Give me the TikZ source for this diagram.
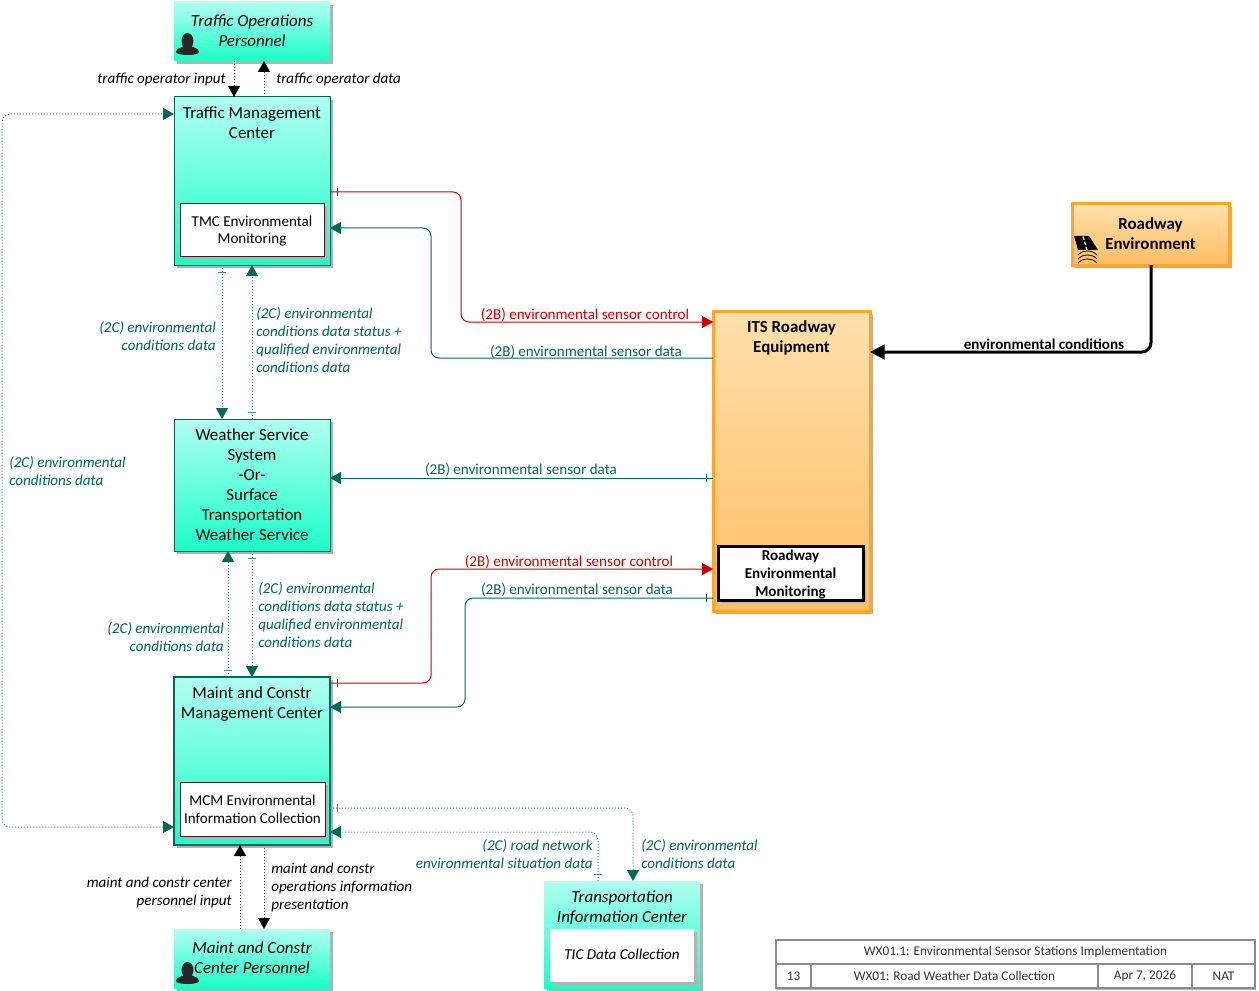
\documentclass[tikz,border=0pt]{standalone}
\usepackage{fontspec}
\usepackage{xcolor}
\setmainfont{Carlito}
\usetikzlibrary{arrows.meta,shadows,decorations.markings}

\definecolor{flowgreen}{RGB}{0,105,90}
\definecolor{flowred}{RGB}{205,0,0}
\definecolor{aquatop}{RGB}{178,255,240}
\definecolor{aquabot}{RGB}{25,255,200}
\definecolor{orangetop}{RGB}{255,224,172}
\definecolor{orangebot}{RGB}{255,190,100}
\definecolor{orangeline}{RGB}{255,165,40}
\definecolor{iconblack}{RGB}{38,38,38}

\newcommand{\personicon}[2]{
    \fill[iconblack,shift={(#1,#2)}]
        (11.5,8) ellipse [x radius=6, y radius=8]
        (0,19) .. controls (0,15) and (5,15) .. (8,13) -- (15,13)
        .. controls (18,15) and (23,15) .. (23,19)
        .. controls (23,23) and (0,23) .. (0,19) -- cycle;
}
\newcommand{\boxfont}{\fontsize{12.7}{15}\selectfont}
\newcommand{\innerfont}{\fontsize{11.3}{13.3}\selectfont}
\newcommand{\flowfont}{\fontsize{11.3}{13.5}\selectfont}
\newcommand{\cellfont}{\fontsize{9.95}{12}\selectfont}

\begin{document}
\begin{tikzpicture}[x=0.75pt,y=-0.75pt,
    wh/.style args={#1/#2}{minimum width=#1*0.75pt,minimum height=#2*0.75pt,inner sep=0pt,outer sep=0pt},
    softshadow/.style={drop shadow={shadow xshift=2.25pt,shadow yshift=-2.25pt,opacity=1,fill=black!30}},
    aquabox/.style={top color=aquatop,bottom color=aquabot,softshadow,anchor=north west,align=center,font=\boxfont},
    orangebox/.style={top color=orangetop,bottom color=orangebot,draw=orangeline,line width=2.25pt,softshadow,anchor=north west,align=center,font=\boxfont\bfseries},
    innerbox/.style={fill=white,softshadow,anchor=north west,align=center,font=\innerfont},
    toptext/.style={align=center,anchor=north,yshift=-3.75pt,font=\boxfont},
    flowtext/.style={font=\flowfont,text=flowgreen,inner sep=0pt},
    flowitalic/.style={flowtext,font=\flowfont\itshape},
    usertext/.style={font=\flowfont\itshape,text=black,inner sep=0pt},
    thinflow/.style={line width=0.75pt,rounded corners=6pt,-{Triangle[length=8.25pt,width=9pt]}},
    greenflow/.style={thinflow,draw=flowgreen},
    dotflow/.style={thinflow,draw=flowgreen!75,-{Triangle[length=8.25pt,width=9pt,color=flowgreen]},dash pattern=on 0.75pt off 1.5pt},
    redflow/.style={thinflow,draw=flowred},
    userflow/.style={thinflow,draw=black!75,-{Triangle[length=8.25pt,width=9pt,color=black]},dash pattern=on 0.75pt off 1.5pt},
    sourcetick/.style={postaction={decorate,decoration={markings,
        mark=at position 5.25pt with {\draw[line width=0.5pt,solid,-] (0,-3pt) -- (0,3pt);}}}},
    cell/.style={draw=black!45,line width=1pt,fill=white,font=\cellfont,text=black!80,anchor=north west,
        drop shadow={shadow xshift=1pt,shadow yshift=-1.5pt,opacity=1,fill=black!30}}]

\path[use as bounding box,fill=white] (0,0) rectangle (1259,991);

\node[aquabox,wh=156/59,font=\boxfont\itshape,text depth=1.5pt] (top) at (174,2) {Traffic Operations\\Personnel};
\personicon{176}{33}
\node[aquabox,wh=156/168,draw=flowgreen,line width=0.75pt,
    label={[toptext]north:{Traffic Management\\Center}}] (tmc) at (174,97) {};
\node[innerbox,wh=144/53,draw=iconblack,line width=0.75pt,text depth=1.2pt] (tmcenv) at (180,204) {TMC Environmental\\Monitoring};
\node[aquabox,wh=156/132,draw=flowgreen,line width=0.75pt] (wss) at (174,419)
    {Weather Service\\System\\-Or-\\Surface\\Transportation\\Weather Service};
\node[aquabox,wh=156/168,draw=flowgreen,line width=1pt,
    label={[toptext]north:{Maint and Constr\\Management Center}}] (mcm) at (174,677) {};
\node[innerbox,wh=145/54,draw=iconblack,line width=0.75pt] (mcmenv) at (180,782) {MCM Environmental\\Information Collection};
\node[aquabox,wh=156/59,font=\boxfont\itshape,text depth=1.5pt] (mcp) at (174,929) {Maint and Constr\\Center Personnel};
\personicon{176}{962}
\node[aquabox,wh=156/107,
    label={[toptext,font=\boxfont\itshape]north:{Transportation\\Information Center}}] (tic) at (544,881) {};
\node[innerbox,wh=144/53,font=\innerfont\itshape,text depth=1.5pt] (ticdata) at (550,929) {TIC Data Collection};
\node[orangebox,wh=157/300,
    label={[toptext,font=\boxfont\bfseries]north:{ITS Roadway\\Equipment}}] (its) at (713,311) {};
\node[innerbox,wh=145/54,draw=black,line width=2.25pt,font=\innerfont\bfseries,text depth=0pt] (itsenv) at (718,546) {Roadway\\Environmental\\Monitoring};
\node[orangebox,wh=157/61,text depth=1.5pt] (road) at (1072,204) {Roadway\\Environment};
\fill[black] (1074,236) -- (1089,236) -- (1098,250) -- (1078,250) -- cycle;
\draw[white,line width=1pt,dash pattern=on 2.5pt off 1.5pt] (1083,236.5) -- (1087,250);
\draw[black,line width=0.6pt]
    (1078,255) .. controls (1083,249.5) and (1092,249.5) .. (1097,255)
    (1078,259) .. controls (1083,253.5) and (1092,253.5) .. (1097,259)
    (1078,263) .. controls (1083,257.5) and (1092,257.5) .. (1097,263);

\draw[redflow,sourcetick] (tmc.east |- 0,192) -| (461,322) -- (its.west |- 0,322);
\draw[greenflow] (its.west |- 0,358) -| (431,228) -- (tmc.east |- 0,228);
\draw[line width=2.25pt,rounded corners=7pt,-{Triangle[length=11pt,width=11pt]}] (road.south -| 1151,0) |- (its.east |- 0,352);
\draw[greenflow,sourcetick] (its.west |- 0,478) -- (wss.east |- 0,478);
\draw[redflow,sourcetick] (mcm.east |- 0,683) -| (431,569) -- (its.west |- 0,569);
\draw[greenflow,sourcetick] (its.west |- 0,598) -| (465,707) -- (mcm.east |- 0,707);
\draw[dotflow,sourcetick] (222,0 |- tmc.south) -- (222,0 |- wss.north);
\draw[dotflow,sourcetick] (252,0 |- wss.north) -- (252,0 |- tmc.south);
\draw[dotflow,sourcetick] (228,0 |- mcm.north) -- (228,0 |- wss.south);
\draw[dotflow,sourcetick] (252,0 |- wss.south) -- (252,0 |- mcm.north);
\draw[dotflow,{Triangle[length=8.25pt,width=9pt,color=flowgreen]}-{Triangle[length=8.25pt,width=9pt,color=flowgreen]}] (mcm.west |- 0,827) -| (2,114) -- (tmc.west |- 0,114);
\draw[dotflow,sourcetick] (mcm.east |- 0,808) -| (633,0 |- tic.north);
\draw[dotflow,sourcetick] (598,0 |- tic.north) |- (mcm.east |- 0,832);
\draw[userflow] (234,0 |- top.south) -- (234,0 |- tmc.north);
\draw[userflow] (264,0 |- tmc.north) -- (264,0 |- top.south);
\draw[userflow] (240,0 |- mcp.north) -- (240,0 |- mcm.south);
\draw[userflow] (264,0 |- mcm.south) -- (264,0 |- mcp.north);

\node[usertext,anchor=east] (inputlabel) at (226,79) {traffic operator input};
\node[usertext,anchor=west] (datalabel) at (276,79) {traffic operator data};
\node[flowtext,text=flowred] (redlabela) at (585,315) {(2B) environmental sensor control};
\node[flowtext] (greenlabela) at (586,352) {(2B) environmental sensor data};
\node[font=\flowfont\bfseries,inner sep=0pt] (condlabel) at (1044,344) {environmental conditions};
\node[flowtext] (greenlabelb) at (521,470) {(2B) environmental sensor data};
\node[flowtext,text=flowred] (redlabelb) at (569,562) {(2B) environmental sensor control};
\node[flowtext] (greenlabelc) at (577,590) {(2B) environmental sensor data};
\node[flowitalic,anchor=east,align=right] (tmcwss) at (216,336) {(2C) environmental\\conditions data};
\node[flowitalic,anchor=west,align=left] (wsstmc) at (256,340) {(2C) environmental\\conditions data status +\\qualified environmental\\conditions data};
\node[flowitalic,anchor=east,align=right] (mcmwss) at (224,637) {(2C) environmental\\conditions data};
\node[flowitalic,anchor=west,align=left] (wssmcm) at (258,615) {(2C) environmental\\conditions data status +\\qualified environmental\\conditions data};
\node[flowitalic,anchor=west,align=left] (looplabel) at (9,471) {(2C) environmental\\conditions data};
\node[flowitalic,anchor=east,align=right] (ticmcm) at (593,854) {(2C) road network\\environmental situation data};
\node[flowitalic,anchor=west,align=left] (mcmtic) at (641,854) {(2C) environmental\\conditions data};
\node[usertext,anchor=east,align=right] (mcpinput) at (232,892) {maint and constr center\\personnel input};
\node[usertext,anchor=west,align=left] (mcpoutput) at (271,887) {maint and constr\\operations information\\presentation};

\node[cell,wh=479/24] (titlecell) at (776,940) {WX01.1: Environmental Sensor Stations Implementation};
\node[cell,wh=35/24] (numcell) at (776,964) {13};
\node[cell,wh=287/24] (namecell) at (811,964) {WX01: Road Weather Data Collection};
\node[cell,wh=94/24] (datecell) at (1098,964) {Apr 7, 2026};
\node[cell,wh=63/24] (natcell) at (1192,964) {NAT};
\end{tikzpicture}
\end{document}
